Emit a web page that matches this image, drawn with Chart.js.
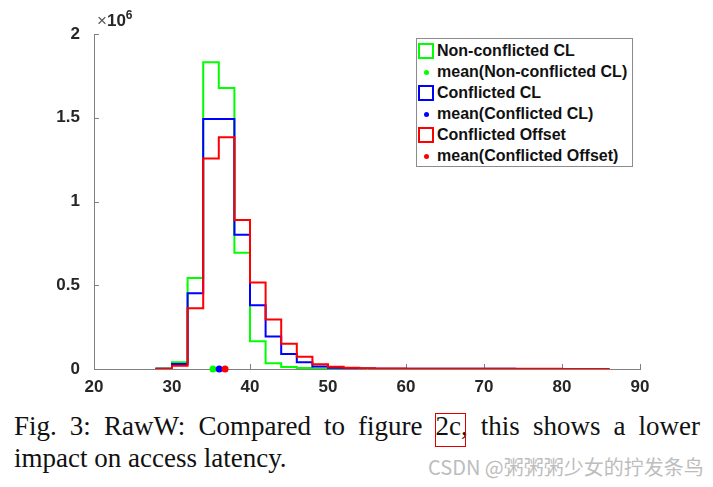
<!DOCTYPE html>
<html><head><meta charset="utf-8">
<script src="https://cdn.jsdelivr.net/npm/chart.js@4.4.1/dist/chart.umd.min.js"></script>
<style>
html,body{margin:0;padding:0;background:#fff;}
#wrap{position:relative;width:713px;height:487px;overflow:hidden;background:#fff;}
canvas{position:absolute;left:0;top:0;}
#exp{position:absolute;left:97px;top:11px;font-family:"Liberation Sans",Arial,sans-serif;font-weight:bold;font-size:17px;line-height:20px;color:#262626;white-space:nowrap;}
#exp .x{font-weight:normal;color:#555;}
#exp .e{font-size:12px;position:relative;top:-7px;}
#legend{position:absolute;left:416px;top:38px;width:217px;height:129px;border:1px solid #8c8c8c;background:#fff;box-sizing:border-box;font-family:"Liberation Sans",Arial,sans-serif;font-weight:bold;font-size:16px;color:#111;}
.row{position:absolute;left:0;height:21px;line-height:21px;width:100%;}
.sq{position:absolute;left:1px;top:3px;width:16px;height:16px;border:2px solid;box-sizing:border-box;}
.dot{position:absolute;left:7px;top:9px;width:5px;height:5px;border-radius:50%;}
.txt{position:absolute;left:20px;top:0;white-space:nowrap;}
#cap1{position:absolute;left:14px;top:410px;width:686px;font:27px "Liberation Serif","Times New Roman",serif;color:#111;text-align:justify;text-align-last:justify;line-height:32px;}
#cap2{position:absolute;left:14px;top:442px;font:27px "Liberation Serif","Times New Roman",serif;color:#111;line-height:32px;white-space:nowrap;}
.box{position:relative;}
.box::after{content:'';position:absolute;left:-1px;right:-5px;top:2px;bottom:-6px;border:1px solid #e00000;}
#wm{position:absolute;left:428px;top:455px;font:20px "Noto Sans CJK SC","Noto Sans",sans-serif;color:#bdbdbd;white-space:nowrap;line-height:24px;}
</style></head><body>
<div id="wrap">
<canvas id="c" width="713" height="400"></canvas>
<div id="exp"><span class="x">×</span>10<span class="e">6</span></div>
<div id="legend"></div>
<div id="cap1">Fig. 3: RawW: Compared to figure <span class="box">2c</span>, this shows a lower</div>
<div id="cap2">impact on access latency.</div>
<div id="wm">CSDN @粥粥粥少女的拧发条鸟</div>
</div>
<script>
// ---- data (counts per latency bin, bins of width 2) ----
const binEdges = [28,30,32,34,36,38,40,42,44,46,48,50,52,54,56,58,60,62,64,66,68,70,72,74,76,78,80,82,84,86];
const nonConflictedCL = [3000,40000,543000,1831000,1678000,694000,165000,35000,12000,6000,3000,2000,1000,1000,500,500];
const conflictedCL = [2000,30000,452000,1493000,1493000,802000,380000,194000,90000,40000,15000,7000,4000,3000,2000,2000,1500,1500,1000,1000,1000,800,800,600,500,500];
const conflictedOffset = [2000,20000,362000,1256000,1383000,890000,516000,296000,151000,73000,28000,13000,7000,4000,3000,2500,2000,2000,1500,1500,1200,1200,1000,1000,800,800,600,600,500];
const seriesNames = ['Non-conflicted CL','Conflicted CL','Conflicted Offset'];
const meanNames = ['mean(Non-conflicted CL)','mean(Conflicted CL)','mean(Conflicted Offset)'];
const meanValues = [35.25, 36.05, 36.8];
const seriesColors = ['#00ff00','#0000ff','#ff0000'];
const xTicks = [20,30,40,50,60,70,80,90];
const yTicks = [0,500000,1000000,1500000,2000000];

function stairs(vals){
  const pts=[{x:binEdges[0],y:0}];
  vals.forEach((v,i)=>pts.push({x:binEdges[i],y:v}));
  pts.push({x:binEdges[vals.length],y:0});
  return pts;
}
const seriesVals=[nonConflictedCL,conflictedCL,conflictedOffset];
const datasets=[];
seriesVals.forEach((vals,i)=>{
  datasets.push({label:seriesNames[i],data:stairs(vals),stepped:'before',borderColor:seriesColors[i],borderWidth:2,pointRadius:0,fill:false,order:5-i});
  datasets.push({label:meanNames[i],data:[{x:meanValues[i],y:0}],showLine:false,pointRadius:3.5,pointBackgroundColor:seriesColors[i],pointBorderWidth:0,borderColor:seriesColors[i],clip:false,order:2-i});
});

// legend
const lg=document.getElementById('legend');
seriesNames.forEach((n,i)=>{
  [[n,'sq'],[meanNames[i],'dot']].forEach((e,k)=>{
    const r=document.createElement('div');r.className='row';r.style.top=(1+(i*2+k)*21)+'px';
    const ic=document.createElement('div');ic.className=e[1];
    if(e[1]==='sq')ic.style.borderColor=seriesColors[i];else ic.style.background=seriesColors[i];
    const t=document.createElement('div');t.className='txt';t.textContent=e[0];
    r.appendChild(ic);r.appendChild(t);lg.appendChild(r);
  });
});

const innerTicks={id:'innerTicks',beforeDatasetsDraw(chart){
  const {ctx,scales:{x,y},chartArea:a}=chart;
  ctx.save();ctx.strokeStyle='#7f7f7f';ctx.lineWidth=1;ctx.beginPath();
  xTicks.forEach(v=>{const px=Math.round(x.getPixelForValue(v))+0.5;ctx.moveTo(px,a.bottom);ctx.lineTo(px,a.bottom-5);});
  yTicks.forEach(v=>{const py=Math.round(y.getPixelForValue(v))+0.5;ctx.moveTo(a.left,py);ctx.lineTo(a.left+5,py);});
  ctx.stroke();ctx.restore();
}};

const tickFont={family:'"Liberation Sans", Arial, sans-serif',size:17,weight:'bold'};
new Chart(document.getElementById('c'),{
  type:'line',
  data:{datasets},
  options:{
    responsive:false,animation:false,
    layout:{padding:{top:34,right:73,left:0,bottom:0}},
    plugins:{legend:{display:false},tooltip:{enabled:false}},
    scales:{
      x:{type:'linear',min:20,max:90,
        afterBuildTicks(s){s.ticks=xTicks.map(v=>({value:v}));},
        ticks:{font:tickFont,color:'#262626',padding:0,maxRotation:0,callback:v=>String(v)},
        grid:{display:false},border:{display:true,color:'#808080',width:1},
        afterFit(s){s.height=31;}},
      y:{type:'linear',min:0,max:2000000,
        afterBuildTicks(s){s.ticks=yTicks.map(v=>({value:v}));},
        ticks:{font:tickFont,color:'#262626',padding:6,callback:v=>String(v/1e6)},
        grid:{display:false},border:{display:true,color:'#808080',width:1},
        afterFit(s){s.width=94;}}
    }
  },
  plugins:[innerTicks]
});
</script>
</body></html>
